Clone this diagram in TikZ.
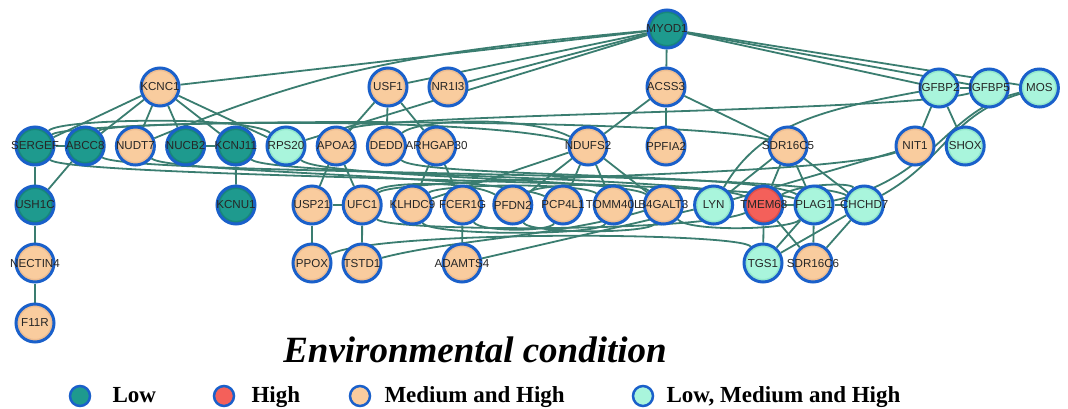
\documentclass[tikz,border=0pt]{standalone}
\usepackage{fontspec}
\setmainfont{Liberation Serif}
\newfontfamily\genefont{Liberation Sans}
\usepackage{tikz}
\usetikzlibrary{positioning,backgrounds}

\definecolor{lowfill}{HTML}{1E9A8E}
\definecolor{lowring}{HTML}{17867B}
\definecolor{highfill}{HTML}{F4605A}
\definecolor{highring}{HTML}{E04E4A}
\definecolor{medfill}{HTML}{F9CC9E}
\definecolor{medring}{HTML}{EDBC90}
\definecolor{allfill}{HTML}{A9F5DC}
\definecolor{allring}{HTML}{93E8CC}
\definecolor{rim}{HTML}{1A60CA}
\definecolor{linkcol}{HTML}{3A7D70}

\newcommand{\genesize}{\genefont\fontsize{11.6pt}{12pt}\selectfont}

\tikzset{
  gene/.style 2 args={circle, draw=rim, line width=3pt, minimum size=38pt,
    inner sep=0pt, fill=#1, text=black!85, font=\genesize,
    execute at begin node={\hbox to 0pt\bgroup\hss},
    execute at end node={\hss\egroup},
    path picture={\draw[line width=2.5pt, #2]
      (path picture bounding box.center) circle (17.2pt);}},
  low/.style={gene={lowfill}{lowring}},
  high/.style={gene={highfill}{highring}},
  med/.style={gene={medfill}{medring}},
  all/.style={gene={allfill}{allring}},
  legdot/.style={circle, draw=rim, line width=2.5pt, minimum size=20pt, inner sep=0pt, fill=#1},
  legtext/.style={anchor=base west, font=\bfseries\fontsize{23pt}{26pt}\selectfont},
  link/.style={draw=linkcol, line width=1.8pt}
}

\begin{document}
\begin{tikzpicture}[x=1pt,y=-1pt,node distance=50.2pt]
\useasboundingbox (0,0) rectangle (1068,408);

% top rows
\node[low] (myod1) at (667,29) {MYOD1};
\node[med] (kcnc1) at (160,87) {KCNC1};
\node[med] (usf1) at (388,87) {USF1};
\node[med] (nr1i3) at (448,87) {NR1I3};
\node[med] (acss3) at (666,87) {ACSS3};
\node[all] (igfbp2) at (939,88) {IGFBP2};
\node[all] (igfbp5) [right of=igfbp2] {IGFBP5};
\node[all] (mos) [right of=igfbp5] {MOS};

% second row
\node[low] (sergef) at (35,146) {SERGEF};
\node[low] (abcc8) [right of=sergef] {ABCC8};
\node[med] (nudt7) [right of=abcc8] {NUDT7};
\node[low] (nucb2) [right of=nudt7] {NUCB2};
\node[low] (kcnj11) [right of=nucb2] {KCNJ11};
\node[all] (rps20) [right of=kcnj11] {RPS20};
\node[med] (apoa2) [right of=rps20] {APOA2};
\node[med] (dedd) [right of=apoa2] {DEDD};
\node[med] (arhgap30) [right of=dedd] {ARHGAP30};
\node[med] (ndufs2) at (588,146) {NDUFS2};
\node[med] (ppfia2) at (666,146) {PPFIA2};
\node[med] (sdr16c5) at (788,146) {SDR16C5};
\node[med] (nit1) at (915,146) {NIT1};
\node[all] (shox) [right of=nit1] {SHOX};

% third row
\node[low] (ush1c) at (35,205) {USH1C};
\node[low] (kcnu1) at (236,205) {KCNU1};
\node[med] (usp21) at (312,205) {USP21};
\node[med] (ufc1) [right of=usp21] {UFC1};
\node[med] (klhdc9) [right of=ufc1] {KLHDC9};
\node[med] (fcer1g) [right of=klhdc9] {FCER1G};
\node[med] (pfdn2) [right of=fcer1g] {PFDN2};
\node[med] (pcp4l1) [right of=pfdn2] {PCP4L1};
\node[med] (tomm40l) [right of=pcp4l1] {TOMM40L};
\node[med] (b4galt3) [right of=tomm40l] {B4GALT3};
\node[all] (lyn) [right of=b4galt3] {LYN};
\node[high] (tmem68) [right of=lyn] {TMEM68};
\node[all] (plag1) [right of=tmem68] {PLAG1};
\node[all] (chchd7) [right of=plag1] {CHCHD7};

% bottom rows
\node[med] (nectin4) at (35,263) {NECTIN4};
\node[med] (f11r) at (35,323) {F11R};
\node[med] (ppox) at (312,263) {PPOX};
\node[med] (tstd1) at (362,263) {TSTD1};
\node[med] (adamts4) at (462,263) {ADAMTS4};
\node[all] (tgs1) at (763,263) {TGS1};
\node[med] (sdr16c6) at (813,263) {SDR16C6};

\begin{scope}[on background layer]
\path[link]
(myod1) edge (acss3)
(myod1) edge (kcnc1)
(myod1) edge (usf1)
(myod1) edge (nr1i3)
(myod1) edge (rps20)
(myod1) edge (igfbp2)
(myod1) edge (igfbp5)
(myod1) edge (mos)
(kcnc1) edge (sergef)
(kcnc1) edge (abcc8)
(kcnc1) edge (nudt7)
(kcnc1) edge (nucb2)
(kcnc1) edge (kcnj11)
(kcnc1) edge (rps20)
(sergef) edge (abcc8)
(nucb2) edge (kcnj11)
(sergef) edge (ush1c)
(abcc8) edge (ush1c)
(ush1c) edge (nectin4)
(nectin4) edge (f11r)
(kcnj11) edge (kcnu1)
(usf1) edge (apoa2)
(usf1) edge (dedd)
(usf1) edge (arhgap30)
(apoa2) edge (usp21)
(apoa2) edge (ufc1)
(usp21) edge (ufc1)
(usp21) edge (ppox)
(ufc1) edge (tstd1)
(arhgap30) edge (klhdc9)
(arhgap30) edge (fcer1g)
(fcer1g) edge (adamts4)
(klhdc9) edge (ndufs2)
(acss3) edge (ndufs2)
(acss3) edge (ppfia2)
(acss3) edge (sdr16c5)
(ndufs2) edge (pfdn2)
(ndufs2) edge (pcp4l1)
(ndufs2) edge (tomm40l)
(ndufs2) edge (b4galt3)
(sdr16c5) edge (lyn)
(sdr16c5) edge (tmem68)
(sdr16c5) edge (plag1)
(sdr16c5) edge (chchd7)
(tmem68) edge (plag1)
(plag1) edge (chchd7)
(tmem68) edge (tgs1)
(plag1) edge (sdr16c6)
(plag1) edge (tgs1)
(chchd7) edge (tgs1)
(chchd7) edge (sdr16c6)
(tmem68) edge (sdr16c6)
(igfbp2) edge (igfbp5)
(igfbp2) edge (nit1)
(igfbp2) edge (shox)
(nit1) edge (lyn)
(adamts4) edge (lyn);

% long bundled links
\draw[link] (myod1) .. controls (420,52) and (330,66) .. (nudt7);
\draw[link] (sergef) .. controls (60,118) and (250,116) .. (rps20);
\draw[link] (sergef) .. controls (70,122) and (470,114) .. (ndufs2);
\draw[link] (abcc8) .. controls (110,118) and (700,118) .. (sdr16c5);
\draw[link] (apoa2) .. controls (360,114) and (900,112) .. (igfbp5);
\draw[link] (dedd) .. controls (420,118) and (530,116) .. (ndufs2);
\draw[link] (lyn) .. controls (760,125) and (820,110) .. (igfbp2);
\draw[link] (mos) .. controls (950,115) and (945,160) .. (chchd7);
\draw[link] (mos) .. controls (945,110) and (935,178) .. (plag1);

% band under the second row
\draw[link] (sergef) .. controls (70,178) and (740,180) .. (plag1);
\draw[link] (abcc8) .. controls (130,176) and (800,170) .. (chchd7);
\draw[link] (nudt7) .. controls (170,173) and (500,175) .. (pcp4l1);
\draw[link] (kcnj11) .. controls (270,176) and (700,176) .. (tmem68);
\draw[link] (rps20) .. controls (320,178) and (620,178) .. (b4galt3);
\draw[link] (dedd) .. controls (420,178) and (760,172) .. (plag1);
\draw[link] (ufc1) .. controls (400,176) and (820,178) .. (nit1);

% hugging the third row
\draw[link] (ufc1) .. controls (385,182) and (470,180) .. (pfdn2);
\draw[link] (klhdc9) .. controls (440,184) and (580,182) .. (tomm40l);
\draw[link] (pfdn2) .. controls (540,183) and (640,182) .. (b4galt3);
\draw[link] (klhdc9) .. controls (430,236) and (600,236) .. (tomm40l);
\draw[link] (fcer1g) .. controls (480,232) and (550,232) .. (pcp4l1);
\draw[link] (pfdn2) .. controls (530,234) and (650,234) .. (b4galt3);
\draw[link] (ufc1) .. controls (390,232) and (700,232) .. (tmem68);
\draw[link] (ppox) .. controls (380,230) and (740,232) .. (tgs1);
\draw[link] (tstd1) .. controls (450,240) and (560,236) .. (b4galt3);
\draw[link] (b4galt3) .. controls (690,232) and (790,230) .. (plag1);
\draw[link] (tmem68) .. controls (800,184) and (850,182) .. (chchd7);
\end{scope}

% legend
\node[font=\bfseries\itshape\fontsize{37pt}{40pt}\selectfont, anchor=base] (title) at (475,362) {Environmental condition};
\node[legdot=lowfill] (klow) at (80,396) {};
\node[legtext] (tlow) at (109,402) {Low};
\node[legdot=highfill] (khigh) at (224,396) {};
\node[legtext] (thigh) at (248,402) {High};
\node[legdot=medfill] (kmed) at (360,396) {};
\node[legtext] (tmed) at (381,402) {Medium and High};
\node[legdot=allfill] (kall) at (643,396) {};
\node[legtext] (tall) at (663,402) {Low, Medium and High};
\end{tikzpicture}
\end{document}
